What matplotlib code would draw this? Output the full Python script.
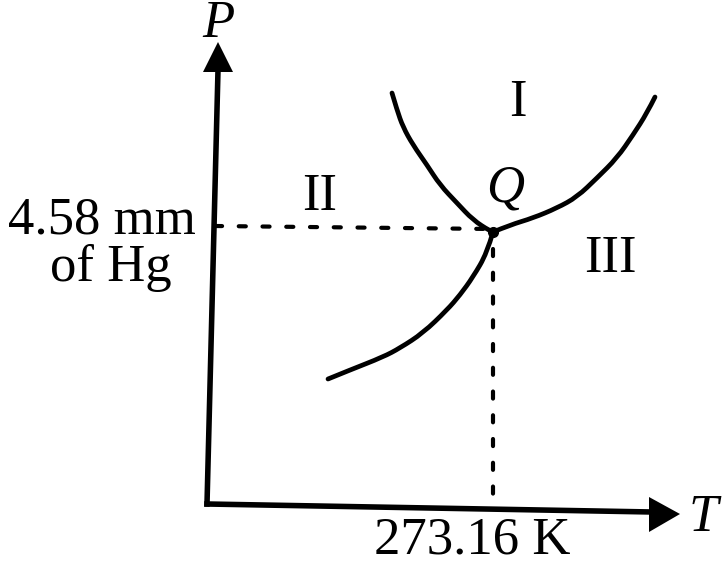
import matplotlib
matplotlib.use("Agg")
import matplotlib.pyplot as plt
from matplotlib.path import Path
from matplotlib.patches import PathPatch

# Curve data (T, P in drawing units; P axis increases downward on the page image)
fusion_T = [392, 397, 403, 413, 427, 440, 457, 473, 490, 493]
fusion_P = [93, 110, 127, 145, 165, 185, 203, 220, 231, 232]
vapour_T = [493, 510, 533, 557, 577, 597, 617, 633, 647, 655]
vapour_P = [232, 225, 218, 208, 197, 178, 158, 135, 113, 97]
subl_T = [493, 487, 473, 460, 447, 423, 400, 383, 350, 328]
subl_P = [232, 253, 277, 295, 310, 333, 348, 357, 370, 379]
triple_T = 493
triple_P = 229

axis_origin = (207, 504)
axis_p_end = (218, 70)
axis_t_end = (652, 512)

fig = plt.figure(figsize=(7.24, 5.74), dpi=100)
ax = fig.add_axes([0, 0, 1, 1])
ax.set_xlim(0, 724)
ax.set_ylim(574, 0)
ax.axis("off")

serif = ["Liberation Serif", "DejaVu Serif"]


def smooth_path(xs, ys):
    pts = list(zip(xs, ys))
    verts = [pts[0]]
    codes = [Path.MOVETO]
    for i in range(1, len(pts) - 1):
        mid = ((pts[i][0] + pts[i + 1][0]) / 2, (pts[i][1] + pts[i + 1][1]) / 2)
        if i == len(pts) - 2:
            mid = pts[-1]
        verts += [pts[i], mid]
        codes += [Path.CURVE3, Path.CURVE3]
    return Path(verts, codes)


# axes
ax.plot([axis_origin[0], axis_p_end[0]], [axis_origin[1], axis_p_end[1]],
        color="black", lw=4.0, solid_capstyle="projecting")
ax.plot([axis_origin[0], axis_t_end[0]], [axis_origin[1], axis_t_end[1]],
        color="black", lw=4.0, solid_capstyle="projecting")
ax.fill([203, 218, 233], [72, 42, 72], color="black", lw=0)
ax.fill([649, 680, 649], [497, 514, 532], color="black", lw=0)

# dotted guides
ax.plot([215, triple_T], [triple_P - 3, triple_P], color="black", lw=3.0,
        linestyle=(0, (1.7, 4.0)), dash_capstyle="round")
ax.plot([triple_T, triple_T], [triple_P + 20, 505], color="black", lw=3.0,
        linestyle=(0, (1.7, 4.0)), dash_capstyle="round")

# curves
for xs, ys in [(fusion_T, fusion_P), (vapour_T, vapour_P), (subl_T, subl_P)]:
    ax.add_patch(PathPatch(smooth_path(xs, ys), facecolor="none",
                           edgecolor="black", lw=3.4, capstyle="round",
                           joinstyle="round"))
ax.plot([triple_T], [triple_P + 3], "o", color="black", ms=7)

fs = 38
ax.text(218, 24, "P", fontsize=fs, family=serif, style="italic",
        ha="center", va="center")
ax.text(703, 518, "T", fontsize=fs, family=serif, style="italic",
        ha="center", va="center")
ax.text(102, 220, "4.58 mm", fontsize=fs, family=serif, ha="center", va="center")
ax.text(111, 268, "of Hg", fontsize=fs, family=serif, ha="center", va="center")
ax.text(472, 541, "273.16 K", fontsize=fs, family=serif, ha="center", va="center")
ax.text(518, 103, "I", fontsize=fs, family=serif, ha="center", va="center")
ax.text(320, 197, "II", fontsize=fs, family=serif, ha="center", va="center")
ax.text(610, 259, "III", fontsize=fs, family=serif, ha="center", va="center")
ax.text(505, 189, "Q", fontsize=fs, family=serif, style="italic",
        ha="center", va="center")

fig.savefig("out.png", dpi=100, facecolor="white")
